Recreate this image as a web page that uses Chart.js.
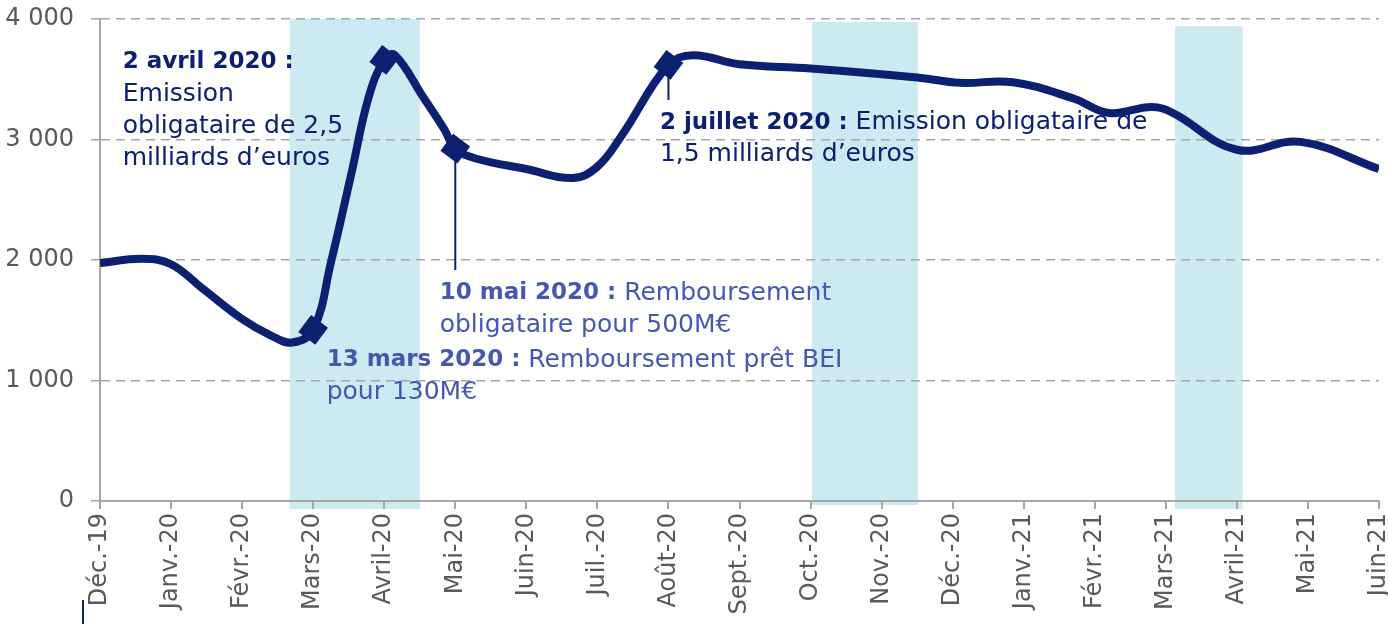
<!DOCTYPE html>
<html lang="fr">
<head>
<meta charset="utf-8">
<script src="https://cdn.jsdelivr.net/npm/chart.js@4.4.1/dist/chart.umd.min.js"></script>
<style>
    html, body { margin: 0; padding: 0; background: #fff; }
</style>
</head>
<body>
<canvas id="graphiqueTresorerie" width="1388" height="624"></canvas>
<script>
const mois = ["Déc.-19", "Janv.-20", "Févr.-20", "Mars-20", "Avril-20", "Mai-20", "Juin-20", "Juil.-20", "Août-20",
    "Sept.-20", "Oct.-20", "Nov.-20", "Déc.-20", "Janv.-21", "Févr.-21", "Mars-21", "Avril-21", "Mai-21", "Juin-21"];

// position en mois depuis déc. 2019 / niveau de trésorerie (M€)
const positions = [0, 0.6, 1.0, 1.45, 2.0, 2.4, 2.7, 3.0, 3.25, 3.55, 3.78, 4.0, 4.15, 4.55, 4.85, 5.0, 5.3, 6.0, 6.65,
    7.0, 7.35, 8.0, 8.35, 9.0, 10.0, 11.5, 12.1, 12.85, 13.7, 14.2, 14.8, 15.1, 16.0, 16.9, 18.0];
const tresorerie = [1975, 2010, 1965, 1760, 1510, 1375, 1315, 1420, 1980, 2750, 3350, 3660, 3700, 3350, 3080, 2925, 2840,
    2755, 2680, 2775, 3040, 3620, 3700, 3625, 3590, 3515, 3470, 3475, 3340, 3220, 3270, 3220, 2915, 2980, 2755];

// evenements marqués d'un losange
const evenementsPos = [3, 4, 5, 8];
const evenementsVal = [1420, 3660, 2925, 3620];

// périodes surlignées
const periodesDebut = [2.67, 10.02, 15.13];
const periodesFin = [4.5, 11.51, 16.08];
const periodesHaut = [4000, 3975, 3940];

const ticksY = [0, 1000, 2000, 3000, 4000];
const labelsY = ["0", "1 000", "2 000", "3 000", "4 000"];

const textes = [
    [[["2 avril 2020 :", true]], [["Emission", false]], [["obligataire de 2,5", false]], [["milliards d’euros", false]]],
    [[["2 juillet 2020 :", true], [" Emission obligataire de", false]], [["1,5 milliards d’euros", false]]],
    [[["10 mai 2020 :", true], [" Remboursement", false]], [["obligataire pour 500M€", false]]],
    [[["13 mars 2020 :", true], [" Remboursement prêt BEI", false]], [["pour 130M€", false]]]
];

const bleuFonce = "#0b2071";
const bleuClair = "#4658ae";
const police = '"DejaVu Sans", sans-serif';

function ecrire(ctx, x, y, lignes, couleur) {
    ctx.save();
    ctx.fillStyle = couleur;
    ctx.textBaseline = "middle";
    lignes.forEach((ligne, i) => {
        let cx = x;
        ligne.forEach(([txt, gras]) => {
            ctx.font = (gras ? "bold 23px " : "25px ") + police;
            ctx.fillText(txt, cx, y + i * 32);
            cx += ctx.measureText(txt).width;
        });
    });
    ctx.restore();
}

const decor = {
    id: "decor",
    beforeDraw(chart) {
        const ctx = chart.ctx;
        const sx = chart.scales.x, sy = chart.scales.y;
        ctx.save();
        ctx.fillStyle = "#cde9f1";
        for (let i = 0; i < periodesDebut.length; i++) {
            const x1 = sx.getPixelForValue(periodesDebut[i]);
            const x2 = sx.getPixelForValue(periodesFin[i]);
            const y1 = sy.getPixelForValue(periodesHaut[i]);
            const y2 = sy.getPixelForValue(0) + (i === 1 ? 4 : 8);
            ctx.fillRect(x1, y1, x2 - x1, y2 - y1);
        }
        ctx.restore();
    },
    afterDatasetsDraw(chart) {
        const ctx = chart.ctx;
        const sx = chart.scales.x, sy = chart.scales.y;

        // traits de rappel
        ctx.save();
        ctx.strokeStyle = bleuFonce;
        ctx.lineWidth = 2;
        ctx.beginPath();
        ctx.moveTo(sx.getPixelForValue(5), sy.getPixelForValue(2925));
        ctx.lineTo(sx.getPixelForValue(5), sy.getPixelForValue(1917));
        ctx.moveTo(sx.getPixelForValue(8), sy.getPixelForValue(3620));
        ctx.lineTo(sx.getPixelForValue(8), sy.getPixelForValue(3328));
        ctx.stroke();
        ctx.beginPath();
        ctx.moveTo(83, 600);
        ctx.lineTo(83, 624);
        ctx.stroke();
        ctx.restore();

        ecrire(ctx, sx.getPixelForValue(0.32), sy.getPixelForValue(3643), textes[0], bleuFonce);
        ecrire(ctx, sx.getPixelForValue(7.88), sy.getPixelForValue(3137), textes[1], bleuFonce);
        ecrire(ctx, sx.getPixelForValue(4.78), sy.getPixelForValue(1726), textes[2], bleuClair);
        ecrire(ctx, sx.getPixelForValue(3.19), sy.getPixelForValue(1170), textes[3], bleuClair);
    }
};

const canvas = document.getElementById("graphiqueTresorerie");

new Chart(canvas, {
    type: "line",
    data: {
        datasets: [{
            data: evenementsPos.map((p, i) => ({ x: p, y: evenementsVal[i] })),
            showLine: false,
            pointStyle: "rectRot",
            pointRadius: 15,
            pointRotation: -8,
            backgroundColor: bleuFonce,
            borderColor: bleuFonce,
            borderWidth: 0
        }, {
            data: positions.map((p, i) => ({ x: p, y: tresorerie[i] })),
            borderColor: bleuFonce,
            borderWidth: 8,
            tension: 0.4,
            pointRadius: 0,
            fill: false
        }]
    },
    options: {
        responsive: false,
        animation: false,
        layout: { autoPadding: false, padding: { top: 19, right: 9 } },
        plugins: { legend: { display: false }, tooltip: { enabled: false } },
        scales: {
            x: {
                type: "linear",
                min: 0,
                max: 18,
                afterFit(scale) {
                    scale.height = 123;
                    scale.paddingLeft = 0;
                    scale.paddingRight = 0;
                },
                afterBuildTicks(scale) { scale.ticks = mois.map((m, i) => ({ value: i })); },
                ticks: {
                    autoSkip: false,
                    maxRotation: 90,
                    minRotation: 90,
                    padding: 4,
                    color: "#595959",
                    font: { family: police, size: 24 },
                    callback: (v) => mois[v]
                },
                grid: { drawOnChartArea: false, tickLength: 8, color: "#a6a6a6", lineWidth: 2 },
                border: { color: "#a6a6a6", width: 2 }
            },
            y: {
                min: 0,
                max: 4000,
                afterFit(scale) {
                    scale.width = 100;
                    scale.paddingTop = 0;
                    scale.paddingBottom = 0;
                },
                afterBuildTicks(scale) { scale.ticks = ticksY.map(v => ({ value: v })); },
                ticks: {
                    padding: 17,
                    color: "#595959",
                    font: { family: police, size: 24 },
                    callback: (v) => labelsY[ticksY.indexOf(v)]
                },
                grid: { color: "#a6a6a6", lineWidth: 1.5, tickLength: 9 },
                border: { color: "#a6a6a6", width: 2, dash: [9, 6] }
            }
        }
    },
    plugins: [decor]
});
</script>
</body>
</html>
